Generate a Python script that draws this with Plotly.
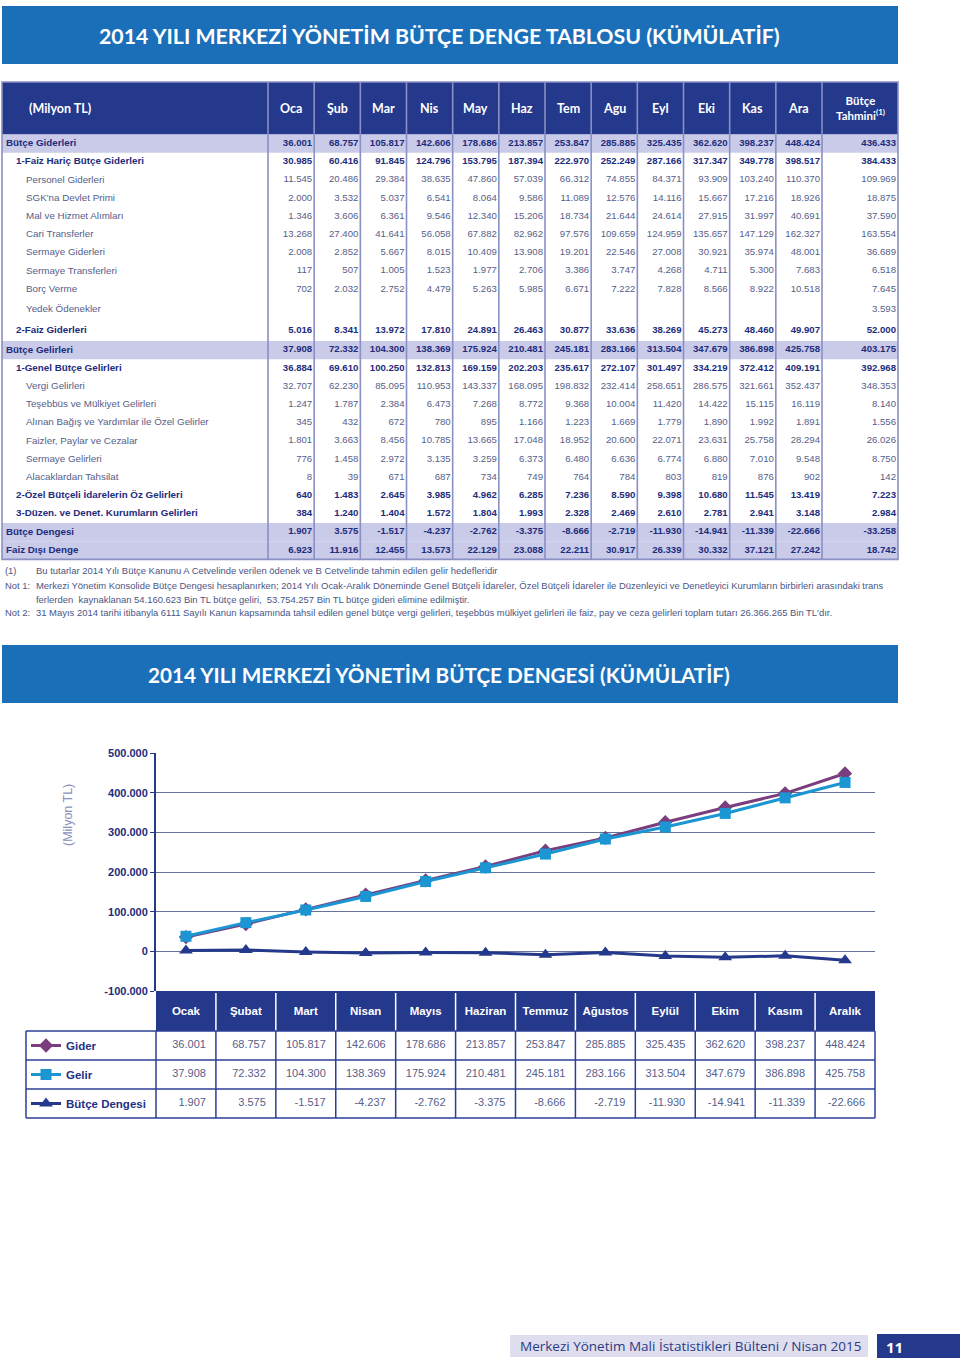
import plotly.graph_objects as go

# ---- sayfa boyutu
W, H = 960, 1361

# =========================
# VERİ
# =========================
aylar_kisa = ["Oca", "Şub", "Mar", "Nis", "May", "Haz", "Tem", "Agu", "Eyl", "Eki", "Kas", "Ara"]
aylar = ["Ocak", "Şubat", "Mart", "Nisan", "Mayıs", "Haziran", "Temmuz", "Ağustos",
         "Eylül", "Ekim", "Kasım", "Aralık"]

satir_adlari = [
    "Bütçe Giderleri", "1-Faiz Hariç Bütçe Giderleri", "Personel Giderleri", "SGK'na Devlet Primi",
    "Mal ve Hizmet Alımları", "Cari Transferler", "Sermaye Giderleri", "Sermaye Transferleri",
    "Borç Verme", "Yedek Ödenekler", "2-Faiz Giderleri", "Bütçe Gelirleri",
    "1-Genel Bütçe Gelirleri", "Vergi Gelirleri", "Teşebbüs ve Mülkiyet Gelirleri",
    "Alınan Bağış ve Yardımlar ile Özel Gelirler", "Faizler, Paylar ve Cezalar", "Sermaye Gelirleri",
    "Alacaklardan Tahsilat", "2-Özel Bütçeli İdarelerin Öz Gelirleri",
    "3-Düzen. ve Denet. Kurumların Gelirleri", "Bütçe Dengesi", "Faiz Dışı Denge",
]
# 0 = ana kalem (gölgeli), 1 = alt toplam, 2 = detay
satir_duzeyi = [0, 1, 2, 2, 2, 2, 2, 2, 2, 2, 1, 0, 1, 2, 2, 2, 2, 2, 2, 1, 1, 0, 0]

butce_giderleri = [36001, 68757, 105817, 142606, 178686, 213857, 253847, 285885, 325435, 362620, 398237, 448424]
faiz_haric_giderler = [30985, 60416, 91845, 124796, 153795, 187394, 222970, 252249, 287166, 317347, 349778, 398517]
personel_giderleri = [11545, 20486, 29384, 38635, 47860, 57039, 66312, 74855, 84371, 93909, 103240, 110370]
sgk_devlet_primi = [2000, 3532, 5037, 6541, 8064, 9586, 11089, 12576, 14116, 15667, 17216, 18926]
mal_hizmet_alimlari = [1346, 3606, 6361, 9546, 12340, 15206, 18734, 21644, 24614, 27915, 31997, 40691]
cari_transferler = [13268, 27400, 41641, 56058, 67882, 82962, 97576, 109659, 124959, 135657, 147129, 162327]
sermaye_giderleri = [2008, 2852, 5667, 8015, 10409, 13908, 19201, 22546, 27008, 30921, 35974, 48001]
sermaye_transferleri = [117, 507, 1005, 1523, 1977, 2706, 3386, 3747, 4268, 4711, 5300, 7683]
borc_verme = [702, 2032, 2752, 4479, 5263, 5985, 6671, 7222, 7828, 8566, 8922, 10518]
yedek_odenekler = [None] * 12
faiz_giderleri = [5016, 8341, 13972, 17810, 24891, 26463, 30877, 33636, 38269, 45273, 48460, 49907]
butce_gelirleri = [37908, 72332, 104300, 138369, 175924, 210481, 245181, 283166, 313504, 347679, 386898, 425758]
genel_butce_gelirleri = [36884, 69610, 100250, 132813, 169159, 202203, 235617, 272107, 301497, 334219, 372412, 409191]
vergi_gelirleri = [32707, 62230, 85095, 110953, 143337, 168095, 198832, 232414, 258651, 286575, 321661, 352437]
tesebbus_mulkiyet = [1247, 1787, 2384, 6473, 7268, 8772, 9368, 10004, 11420, 14422, 15115, 16119]
bagis_yardimlar = [345, 432, 672, 780, 895, 1166, 1223, 1669, 1779, 1890, 1992, 1891]
faiz_pay_ceza = [1801, 3663, 8456, 10785, 13665, 17048, 18952, 20600, 22071, 23631, 25758, 28294]
sermaye_gelirleri = [776, 1458, 2972, 3135, 3259, 6373, 6480, 6636, 6774, 6880, 7010, 9548]
alacak_tahsilat = [8, 39, 671, 687, 734, 749, 764, 784, 803, 819, 876, 902]
ozel_butceli_gelirler = [640, 1483, 2645, 3985, 4962, 6285, 7236, 8590, 9398, 10680, 11545, 13419]
duzen_denet_gelirler = [384, 1240, 1404, 1572, 1804, 1993, 2328, 2469, 2610, 2781, 2941, 3148]
butce_dengesi = [1907, 3575, -1517, -4237, -2762, -3375, -8666, -2719, -11930, -14941, -11339, -22666]
faiz_disi_denge = [6923, 11916, 12455, 13573, 22129, 23088, 22211, 30917, 26339, 30332, 37121, 27242]

butce_tahmini = [436433, 384433, 109969, 18875, 37590, 163554, 36689, 6518, 7645, 3593, 52000, 403175,
                 392968, 348353, 8140, 1556, 26026, 8750, 142, 7223, 2984, -33258, 18742]

aylik_satirlar = [
    butce_giderleri, faiz_haric_giderler, personel_giderleri, sgk_devlet_primi, mal_hizmet_alimlari,
    cari_transferler, sermaye_giderleri, sermaye_transferleri, borc_verme, yedek_odenekler,
    faiz_giderleri, butce_gelirleri, genel_butce_gelirleri, vergi_gelirleri, tesebbus_mulkiyet,
    bagis_yardimlar, faiz_pay_ceza, sermaye_gelirleri, alacak_tahsilat, ozel_butceli_gelirler,
    duzen_denet_gelirler, butce_dengesi, faiz_disi_denge,
]

y_tick_degerleri = [-100000, 0, 100000, 200000, 300000, 400000, 500000]
y_tick_etiketleri = ["-100.000", "0", "100.000", "200.000", "300.000", "400.000", "500.000"]

# =========================
# RENKLER / FONTLAR
# =========================
BANNER = "#1b6fb9"
LACIVERT = "#24398c"
CIZGI = "#8a8fc4"
GOLGE = "#c9cbe8"
KOYU_YAZI = "#1d2c7c"
ACIK_YAZI = "#56608a"
MOR = "#7a3e7e"
MAVI = "#1b96d3"
NOT_YAZI = "#4a5585"

DAR = "Liberation Sans, Arial, sans-serif"
BASLIK = "Lato, Open Sans, sans-serif"


def fmt(v):
    if v is None:
        return ""
    return f"{v:,}".replace(",", ".")


def px(x):
    return x / W


def py(y):
    return 1 - y / H


fig = go.Figure()
shapes = []
annotations = []

# =========================
# BAŞLIK BANTLARI
# =========================
for (y0, y1, metin, boy) in [
    (6, 64, "2014 YILI MERKEZİ YÖNETİM BÜTÇE DENGE TABLOSU (KÜMÜLATİF)", 21.3),
    (645, 703, "2014 YILI MERKEZİ YÖNETİM BÜTÇE DENGESİ (KÜMÜLATİF)", 20.7),
]:
    shapes.append(dict(type="rect", xref="paper", yref="paper", x0=px(2), x1=px(898),
                       y0=py(y1), y1=py(y0), fillcolor=BANNER, line_width=0, layer="below"))
    annotations.append(dict(xref="paper", yref="paper", x=px(439), y=py((y0 + y1) / 2 + 1),
                            text=metin, showarrow=False, xanchor="center", yanchor="middle",
                            font=dict(family=BASLIK, size=boy, color="white", weight="bold")))

# =========================
# ÜST TABLO
# =========================
T_SOL, T_SAG = 2, 898
ETIKET_SAG = 268
AY_G = (822 - ETIKET_SAG) / 12
BAS_UST, BAS_ALT = 82, 134.6
sutun_kenar = [T_SOL, ETIKET_SAG] + [ETIKET_SAG + AY_G * (i + 1) for i in range(12)] + [T_SAG]

satir_yuk = [18.2] * len(satir_adlari)
satir_yuk[9] = 22.2
satir_yuk[10] = 20.4
satir_ust = []
y = BAS_ALT
for h in satir_yuk:
    satir_ust.append(y)
    y += h
T_ALT = y
satir_orta = [satir_ust[i] + satir_yuk[i] / 2 for i in range(len(satir_yuk))]

# başlık zemini
shapes.append(dict(type="rect", xref="paper", yref="paper", x0=px(T_SOL), x1=px(T_SAG),
                   y0=py(BAS_ALT), y1=py(BAS_UST), fillcolor=LACIVERT, line_width=0, layer="below"))
# gölgeli satırlar
for i, d in enumerate(satir_duzeyi):
    if d == 0:
        shapes.append(dict(type="rect", xref="paper", yref="paper", x0=px(T_SOL), x1=px(T_SAG),
                           y0=py(satir_ust[i] + satir_yuk[i]), y1=py(satir_ust[i]),
                           fillcolor=GOLGE, line_width=0, layer="below"))
# dikey çizgiler
for xk in sutun_kenar[1:-1]:
    shapes.append(dict(type="line", xref="paper", yref="paper", x0=px(xk), x1=px(xk),
                       y0=py(T_ALT), y1=py(BAS_UST), line=dict(color=CIZGI, width=1.6)))
shapes.append(dict(type="rect", xref="paper", yref="paper", x0=px(T_SOL), x1=px(T_SAG),
                   y0=py(T_ALT), y1=py(BAS_UST), line=dict(color=CIZGI, width=1.6)))

# başlık yazıları
bas_y = (BAS_UST + BAS_ALT) / 2
bas_font = dict(family=BASLIK, size=12.5, color="white", weight="bold")
annotations.append(dict(xref="paper", yref="paper", x=px(60), y=py(bas_y), text="(Milyon TL)",
                        showarrow=False, xanchor="center", yanchor="middle", font=bas_font))
for i, a in enumerate(aylar_kisa):
    annotations.append(dict(xref="paper", yref="paper", x=px((sutun_kenar[i + 1] + sutun_kenar[i + 2]) / 2),
                            y=py(bas_y), text=a, showarrow=False, xanchor="center", yanchor="middle",
                            font=bas_font))
annotations.append(dict(xref="paper", yref="paper", x=px((822 + 898) / 2), y=py(bas_y),
                        text="Bütçe<br>Tahmini<sup>(1)</sup>", showarrow=False, xanchor="center",
                        yanchor="middle", font=dict(family=BASLIK, size=11.5, color="white", weight="bold")))

# hücre yazıları (piksel eksenine yerleştirilen metin izleri)
girinti = {0: 4, 1: 14, 2: 24}
et_x, et_y, et_t, et_b = [], [], [], []
sy_x, sy_y, sy_t, sy_b = [], [], [], []
for i, ad in enumerate(satir_adlari):
    kalin = satir_duzeyi[i] < 2
    et_x.append(T_SOL + girinti[satir_duzeyi[i]])
    et_y.append(satir_orta[i])
    et_t.append(f"<b>{ad}</b>" if kalin else ad)
    et_b.append(kalin)
    degerler = list(aylik_satirlar[i]) + [butce_tahmini[i]]
    for j, v in enumerate(degerler):
        if v is None:
            continue
        sy_x.append(sutun_kenar[j + 2] - 2)
        sy_y.append(satir_orta[i])
        sy_t.append(f"<b>{fmt(v)}</b>" if kalin else fmt(v))
        sy_b.append(kalin)

fig.add_trace(go.Scatter(
    x=et_x, y=et_y, text=et_t, mode="text", textposition="middle right",
    textfont=dict(family=DAR, size=9.8, color=[KOYU_YAZI if b else ACIK_YAZI for b in et_b]),
    xaxis="x2", yaxis="y2", showlegend=False, hoverinfo="skip", cliponaxis=False))
fig.add_trace(go.Scatter(
    x=sy_x, y=sy_y, text=sy_t, mode="text", textposition="middle left",
    textfont=dict(family=DAR, size=9.6, color=[KOYU_YAZI if b else ACIK_YAZI for b in sy_b]),
    xaxis="x2", yaxis="y2", showlegend=False, hoverinfo="skip", cliponaxis=False))

# =========================
# NOTLAR
# =========================
notlar = [
    (570, "(1)", "Bu tutarlar 2014 Yılı Bütçe Kanunu A Cetvelinde verilen ödenek ve B Cetvelinde tahmin edilen gelir hedefleridir"),
    (585, "Not 1:", "Merkezi Yönetim Konsolide Bütçe Dengesi hesaplanırken; 2014 Yılı Ocak-Aralık Döneminde Genel Bütçeli İdareler, Özel Bütçeli İdareler ile Düzenleyici ve Denetleyici Kurumların birbirleri arasındaki trans"),
    (599, "", "ferlerden  kaynaklanan 54.160.623 Bin TL bütçe geliri,  53.754.257 Bin TL bütçe gideri elimine edilmiştir."),
    (612, "Not 2:", "31 Mayıs 2014 tarihi itibanyla 6111 Sayılı Kanun kapsamında tahsil edilen genel bütçe vergi gelirleri, teşebbüs mülkiyet gelirleri ile faiz, pay ve ceza gelirleri toplam tutarı 26.366.265 Bin TL'dır."),
]
for (yy, on, metin) in notlar:
    if on:
        annotations.append(dict(xref="paper", yref="paper", x=px(3), y=py(yy), text=on, showarrow=False,
                                xanchor="left", yanchor="middle", font=dict(family=DAR, size=9.4, color=NOT_YAZI)))
    annotations.append(dict(xref="paper", yref="paper", x=px(34), y=py(yy), text=metin, showarrow=False,
                            xanchor="left", yanchor="middle", font=dict(family=DAR, size=9.45, color=NOT_YAZI)))

# =========================
# GRAFİK
# =========================
G_SOL, G_SAG, G_UST, G_ALT = 156, 875, 753, 991
seriler = [
    ("Gider", butce_giderleri, MOR, "diamond", 11),
    ("Gelir", butce_gelirleri, MAVI, "square", 11),
    ("Bütçe Dengesi", butce_dengesi, LACIVERT, "triangle-up", 12),
]
for k, (ad, deg, renk, sembol, boy) in enumerate(seriler):
    fig.add_trace(go.Scatter(
        x=aylar, y=deg, name=ad, mode="lines+markers", legendgroup=ad,
        line=dict(color=renk, width=3), marker=dict(symbol=sembol, size=boy, color=renk),
        xaxis="x", yaxis="y"))

annotations.append(dict(xref="paper", yref="paper", x=px(68), y=py(815), text="(Milyon TL)",
                        textangle=-90, showarrow=False, xanchor="center", yanchor="middle",
                        font=dict(family=DAR, size=12.5, color="#8a8fba")))

# =========================
# ALT TABLO
# =========================
A_SOL = 26
A_AY_G = (G_SAG - G_SOL) / 12
alt_kenar = [G_SOL + A_AY_G * i for i in range(13)]
A_BAS_UST, A_BAS_ALT = 991, 1031
alt_satir_kenar = [1031, 1060, 1089, 1118]

shapes.append(dict(type="rect", xref="paper", yref="paper", x0=px(G_SOL), x1=px(G_SAG),
                   y0=py(A_BAS_ALT), y1=py(A_BAS_UST), fillcolor=LACIVERT, line_width=0, layer="below"))
for xk in alt_kenar[1:-1]:
    shapes.append(dict(type="line", xref="paper", yref="paper", x0=px(xk), x1=px(xk),
                       y0=py(A_BAS_ALT), y1=py(A_BAS_UST + 2), line=dict(color="white", width=1.5)))
for xk in [A_SOL] + alt_kenar:
    shapes.append(dict(type="line", xref="paper", yref="paper", x0=px(xk), x1=px(xk),
                       y0=py(alt_satir_kenar[-1]), y1=py(alt_satir_kenar[0]),
                       line=dict(color="#2d3e94", width=1.5)))
for yk in alt_satir_kenar:
    shapes.append(dict(type="line", xref="paper", yref="paper", x0=px(A_SOL), x1=px(G_SAG),
                       y0=py(yk), y1=py(yk), line=dict(color="#2d3e94", width=1.5)))

ay_x = [(alt_kenar[i] + alt_kenar[i + 1]) / 2 for i in range(12)]
fig.add_trace(go.Scatter(
    x=ay_x, y=[(A_BAS_UST + A_BAS_ALT) / 2 + 1] * 12, text=[f"<b>{a}</b>" for a in aylar],
    mode="text", textposition="middle center", textfont=dict(family=DAR, size=11.5, color="white"),
    xaxis="x2", yaxis="y2", showlegend=False, hoverinfo="skip", cliponaxis=False))

at_x, at_y, at_t = [], [], []
for r, (ad, deg, renk, sembol, boy) in enumerate(seriler):
    yc = (alt_satir_kenar[r] + alt_satir_kenar[r + 1]) / 2
    for j, v in enumerate(deg):
        at_x.append(alt_kenar[j + 1] - 10)
        at_y.append(yc)
        at_t.append(fmt(v))
fig.add_trace(go.Scatter(
    x=at_x, y=at_y, text=at_t, mode="text", textposition="middle left",
    textfont=dict(family=DAR, size=11, color=ACIK_YAZI),
    xaxis="x2", yaxis="y2", showlegend=False, hoverinfo="skip", cliponaxis=False))

# =========================
# ALT BİLGİ
# =========================
shapes.append(dict(type="rect", xref="paper", yref="paper", x0=px(510), x1=px(868),
                   y0=py(1357), y1=py(1335), fillcolor="#dedeef", line_width=0, layer="below"))
shapes.append(dict(type="rect", xref="paper", yref="paper", x0=px(877), x1=px(960),
                   y0=py(1358), y1=py(1334), fillcolor=LACIVERT, line_width=0, layer="below"))
annotations.append(dict(xref="paper", yref="paper", x=px(863), y=py(1346),
                        text="Merkezi Yönetim Mali İstatistikleri Bülteni / Nisan 2015", showarrow=False,
                        xanchor="right", yanchor="middle",
                        font=dict(family="Open Sans, sans-serif", size=13.5, color="#2b3b84")))
annotations.append(dict(xref="paper", yref="paper", x=px(884), y=py(1347), text="<b>11</b>",
                        showarrow=False, xanchor="left", yanchor="middle",
                        font=dict(family="Open Sans, sans-serif", size=15, color="white")))

# =========================
# DÜZEN
# =========================
fig.update_layout(
    width=W, height=H, margin=dict(l=0, r=0, t=0, b=0, autoexpand=False),
    paper_bgcolor="white", plot_bgcolor="rgba(0,0,0,0)",
    shapes=shapes, annotations=annotations,
    xaxis=dict(domain=[px(G_SOL), px(G_SAG)], range=[-0.5, 11.5], showticklabels=False,
               showgrid=False, zeroline=False, ticks="", anchor="y", fixedrange=True, automargin=False),
    yaxis=dict(domain=[py(G_ALT), py(G_UST)], range=[-100000, 500000], tickvals=y_tick_degerleri,
               ticktext=y_tick_etiketleri, showgrid=True, gridcolor="#68719a", gridwidth=1.2,
               zeroline=False, showline=True, linecolor=LACIVERT, linewidth=2, ticks="outside",
               ticklen=4, tickcolor=LACIVERT, anchor="x", automargin=False,
               tickfont=dict(family=DAR, size=11, color=KOYU_YAZI, weight="bold"), fixedrange=True),
    xaxis2=dict(domain=[0, 1], range=[0, W], visible=False, anchor="y2", fixedrange=True, automargin=False),
    yaxis2=dict(domain=[0, 1], range=[H, 0], visible=False, anchor="x2", fixedrange=True, automargin=False),
    showlegend=True,
    legend=dict(x=px(26), y=py(1031), xanchor="left", yanchor="top", bgcolor="rgba(0,0,0,0)",
                tracegroupgap=10, traceorder="grouped",
                font=dict(family=DAR, size=11.5, color="#1f3186", weight="bold")),
)

fig.write_html("out.html", config={"displayModeBar": False},
               post_script="document.body.style.margin='0px';")
